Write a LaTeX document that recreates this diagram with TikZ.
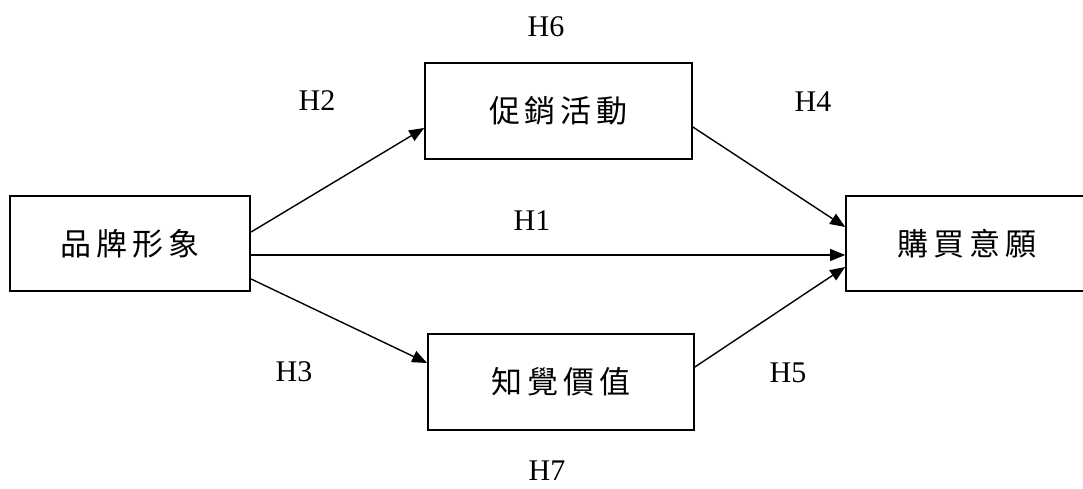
\documentclass[tikz,border=0pt]{standalone}
\usepackage{fontspec}
\setmainfont{Liberation Serif}
\newfontfamily\cjk[LetterSpace=16]{Noto Sans CJK TC}
\usetikzlibrary{arrows.meta,calc}
\begin{document}
\begin{tikzpicture}[x=1pt,y=-1pt,
  box/.style={draw,line width=1.7pt,rectangle,inner sep=0pt,font=\cjk\fontsize{31}{34}\selectfont},
  conn/.style={line width=1.4pt,-{Triangle[length=15pt,width=12pt]}},
  lab/.style={font=\fontsize{30}{32}\selectfont,inner sep=0pt}]
\useasboundingbox (0,0) rectangle (1083,488);
\node[box,minimum width=240.5pt,minimum height=95pt] (b1) at (130,243.5) {品牌形象};
\node[box,minimum width=267pt,minimum height=96pt] (b2) at (558.5,111) {促銷活動};
\node[box,minimum width=266pt,minimum height=96pt] (b3) at (561,382) {知覺價值};
\node[box,minimum width=242pt,minimum height=95pt] (b4) at (967,243.5) {購買意願};
\draw[conn] ($(b1.east)+(0,-11.5)$) -- ($(b2.west)+(0,17)$);
\draw[conn] ($(b1.east)+(0,11.5)$) -- ($(b4.west)+(0,11.5)$);
\draw[conn] ($(b1.east)+(0,35.5)$) -- ($(b3.west)+(0,-19)$);
\draw[conn] ($(b2.east)+(0,16)$) -- ($(b4.west)+(0,-16.5)$);
\draw[conn] ($(b3.east)+(0,-15)$) -- ($(b4.west)+(0,23.5)$);
\node[lab] (h6) at (546,27) {H6};
\node[lab] (h2) at (317,101) {H2};
\node[lab] (h4) at (813,102) {H4};
\node[lab] (h1) at (532,221) {H1};
\node[lab] (h3) at (294,372) {H3};
\node[lab] (h5) at (788,373) {H5};
\node[lab] (h7) at (547,471) {H7};
\end{tikzpicture}
\end{document}
